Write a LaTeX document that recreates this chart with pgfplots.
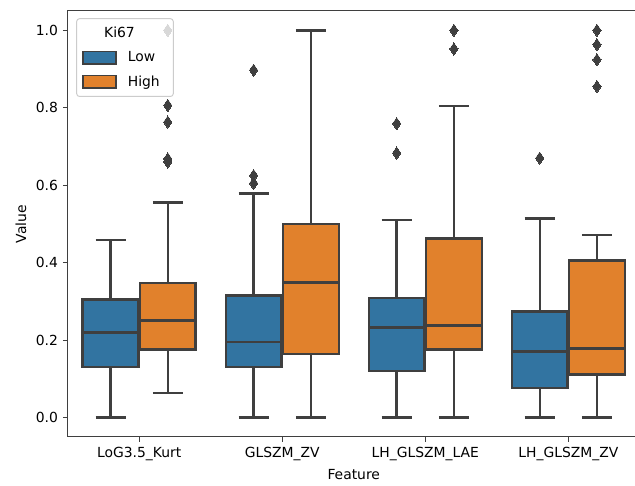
\documentclass[border=0pt]{standalone}
\usepackage{fontspec}
\setmainfont{DejaVu Sans}
\usepackage{pgfplots}
\pgfplotsset{compat=1.18}
\usepgfplotslibrary{statistics}

\definecolor{sbblue}{HTML}{3274A1}
\definecolor{sborange}{HTML}{E1812C}
\definecolor{edge}{HTML}{3F3F3F}

\pgfplotsset{
  sbbox/.style 2 args={
    solid, draw=edge, line width=1.7pt,
    mark=diamond*, mark size=4.4pt,
    mark options={fill=edge, draw=edge, line width=0pt, xscale=0.9},
    boxplot/draw direction=y,
    boxplot/box extend=0.39,
    boxplot/whisker extend=0.21,
    boxplot/every box/.style={draw=edge, fill=#1},
    boxplot/draw position=#2,
  },
}

\begin{document}
\begin{tikzpicture}
\useasboundingbox (-48.7pt,-35.3pt) rectangle (408.5pt,314.6pt);
\begin{axis}[
  scale only axis,
  width=412pt, height=306.7pt,
  xmin=-0.5, xmax=3.5,
  ymin=-0.05, ymax=1.05,
  xtick={0,1,2,3},
  xticklabels={LoG3.5\_Kurt, GLSZM\_ZV, LH\_GLSZM\_LAE, LH\_GLSZM\_ZV},
  ytick={0,0.2,0.4,0.6,0.8,1.0},
  yticklabel style={/pgf/number format/.cd, fixed, fixed zerofill, precision=1},
  /pgf/number format/assume math mode=true,
  tick align=outside,
  tick pos=left,
  major tick length=3.5pt,
  tick style={edge, line width=0.7pt},
  axis line style={edge, line width=0.7pt},
  xlabel={Feature},
  ylabel={Value},
  font=\fontsize{10}{12}\selectfont,
  legend style={at={(0.015,0.983)}, anchor=north west,
    draw=black!20, rounded corners=2pt, line width=0.7pt,
    fill=white, fill opacity=0.8, text opacity=1, draw opacity=1,
    font=\fontsize{10}{12}\selectfont, row sep=4.5pt,
    inner xsep=4pt, inner ysep=4pt},
  legend cell align=left,
  legend image code/.code={
    \draw[#1, sharp corners, fill opacity=1] (0cm,-0.16cm) rectangle (0.84cm,0.16cm);
  },
]
\addlegendimage{empty legend}
\addlegendentry{\hspace{-1.15cm}\makebox[2.3cm][c]{Ki67}}
\addlegendimage{fill=sbblue, draw=edge, line width=0.9pt}
\addlegendentry{\hspace{6pt}Low}
\addlegendimage{fill=sborange, draw=edge, line width=0.9pt}
\addlegendentry{\hspace{6pt}High}

% LoG3.5_Kurt
\addplot[sbbox={sbblue}{-0.2}, forget plot, boxplot prepared={
  lower whisker=0.0, lower quartile=0.130, median=0.220,
  upper quartile=0.305, upper whisker=0.459}] coordinates {};
\addplot[sbbox={sborange}{0.2}, forget plot, boxplot prepared={
  lower whisker=0.064, lower quartile=0.176, median=0.251,
  upper quartile=0.347, upper whisker=0.555}]
  table[row sep=\\, y index=0] {data\\ 1.0\\ 0.806\\ 0.763\\ 0.668\\ 0.660\\};

% GLSZM_ZV
\addplot[sbbox={sbblue}{0.8}, forget plot, boxplot prepared={
  lower whisker=0.0, lower quartile=0.130, median=0.195,
  upper quartile=0.315, upper whisker=0.579}]
  table[row sep=\\, y index=0] {data\\ 0.897\\ 0.625\\ 0.605\\};
\addplot[sbbox={sborange}{1.2}, forget plot, boxplot prepared={
  lower whisker=0.0, lower quartile=0.165, median=0.349,
  upper quartile=0.500, upper whisker=1.0}] coordinates {};

% LH_GLSZM_LAE
\addplot[sbbox={sbblue}{1.8}, forget plot, boxplot prepared={
  lower whisker=0.0, lower quartile=0.120, median=0.233,
  upper quartile=0.308, upper whisker=0.511}]
  table[row sep=\\, y index=0] {data\\ 0.759\\ 0.683\\};
\addplot[sbbox={sborange}{2.2}, forget plot, boxplot prepared={
  lower whisker=0.0, lower quartile=0.176, median=0.238,
  upper quartile=0.462, upper whisker=0.804}]
  table[row sep=\\, y index=0] {data\\ 1.0\\ 0.952\\};

% LH_GLSZM_ZV
\addplot[sbbox={sbblue}{2.8}, forget plot, boxplot prepared={
  lower whisker=0.0, lower quartile=0.076, median=0.171,
  upper quartile=0.274, upper whisker=0.514}]
  table[row sep=\\, y index=0] {data\\ 0.670\\};
\addplot[sbbox={sborange}{3.2}, forget plot, boxplot prepared={
  lower whisker=0.0, lower quartile=0.111, median=0.178,
  upper quartile=0.406, upper whisker=0.472}]
  table[row sep=\\, y index=0] {data\\ 1.0\\ 0.963\\ 0.924\\ 0.855\\};
\end{axis}
\end{tikzpicture}
\end{document}
